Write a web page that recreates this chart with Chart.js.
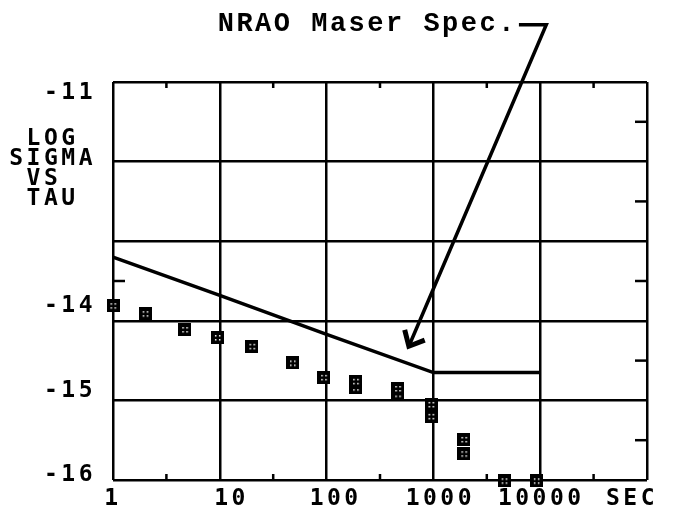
<!DOCTYPE html>
<html>
<head>
<meta charset="utf-8">
<script src="https://cdn.jsdelivr.net/npm/chart.js@4/dist/chart.umd.min.js"></script>
<style>
  html, body { margin: 0; padding: 0; background: #fff; }
  #wrap { width: 674px; height: 516px; }
</style>
</head>
<body>
<div id="wrap"><canvas id="c" width="674" height="516"></canvas></div>
<script>
// ---- data ----
const tauA   = [1, 2, 4.7, 9.5, 20, 48, 94, 187, 464, 950, 1930, 4600, 9200];
const sigmaA = [-13.81, -13.91, -14.11, -14.21, -14.32, -14.53, -14.71, -14.76, -14.85, -15.05, -15.49, -16.01, -16.01];
const tauB   = [187, 464, 950, 1930];
const sigmaB = [-14.84, -14.92, -15.2, -15.67];
const specTau   = [1, 10, 100, 1000, 10000];
const specSigma = [-13.2, -13.68, -14.17, -14.65, -14.65];

const xTickValues = [1, 10, 100, 1000, 10000, 100000];
const xTickLabels = ['1', '10', '100', '1000', '10000', 'SEC'];
const yTickValues = [-16, -15, -14, -12, -11];
const yTickLabels = ['-16', '-15', '-14', ['LOG ', 'SIGMA', 'VS  ', 'TAU '], '-11'];
const titleText = 'NRAO Maser Spec.';

// ---- layout / style (not data) ----
const xLabelNudge = [0, 0.11, 0.085, 0.065, 0.01, -0.14];   // decades
const yLabelNudge = [0.06, 0.12, 0.19, -0.09, -0.14];        // units
const arrow = { tailX: 11400, tailY: -10.28, tipX: 589, tipY: -14.32, hookX: 6320 };
const gridY = [-16, -15, -14, -13, -12, -11];

function makeMarker() {
  const s = 13, cv = document.createElement('canvas');
  cv.width = s; cv.height = s;
  const c = cv.getContext('2d');
  c.fillStyle = '#000'; c.fillRect(0, 0, s, s);
  c.fillStyle = '#fff';
  c.fillRect(4, 4, 1.5, 1.5); c.fillRect(8, 4, 1.5, 1.5);
  c.fillRect(4, 8, 1.5, 1.5); c.fillRect(8, 8, 1.5, 1.5);
  return cv;
}
const marker = makeMarker();

const tickFont = { family: '"DejaVu Sans Mono", monospace', size: 23, weight: 'bold' };

const decor = {
  id: 'decor',
  beforeDraw(chart) {
    const ctx = chart.ctx;
    ctx.save();
    ctx.fillStyle = '#fff';
    ctx.fillRect(0, 0, chart.width, chart.height);
    ctx.restore();
    ctx.letterSpacing = '3.5px';
  },
  afterDraw(chart) {
    const ctx = chart.ctx, xs = chart.scales.x, ys = chart.scales.y, a = chart.chartArea;
    ctx.save();
    ctx.letterSpacing = '0px';
    ctx.strokeStyle = '#000';
    ctx.lineWidth = 2.5;
    ctx.lineCap = 'butt';
    // minor ticks top / bottom at half decades
    for (let k = 0; k < 5; k++) {
      const px = xs.getPixelForValue(Math.pow(10, k + 0.5));
      ctx.beginPath();
      ctx.moveTo(px, a.top); ctx.lineTo(px, a.top + 6);
      ctx.moveTo(px, a.bottom); ctx.lineTo(px, a.bottom - 6);
      ctx.stroke();
    }
    // minor ticks right side at half units
    for (let v = -15.5; v < -11; v += 1) {
      const py = ys.getPixelForValue(v);
      ctx.beginPath();
      ctx.moveTo(a.right, py); ctx.lineTo(a.right - 12, py);
      ctx.stroke();
    }
    {
      const py = ys.getPixelForValue(-13.5);
      ctx.beginPath();
      ctx.moveTo(a.left, py); ctx.lineTo(a.left + 12, py);
      ctx.stroke();
    }
    // arrow
    const tx = xs.getPixelForValue(arrow.tailX), ty = ys.getPixelForValue(arrow.tailY);
    const px = xs.getPixelForValue(arrow.tipX), py = ys.getPixelForValue(arrow.tipY);
    const hx = xs.getPixelForValue(arrow.hookX);
    ctx.lineWidth = 3.5;
    ctx.lineJoin = 'miter';
    ctx.beginPath();
    ctx.moveTo(hx, ty); ctx.lineTo(tx, ty); ctx.lineTo(px, py);
    ctx.stroke();
    const ang = Math.atan2(ty - py, tx - px);
    const L = 17, spread = 0.55;
    ctx.lineWidth = 5;
    ctx.beginPath();
    ctx.moveTo(px + L * Math.cos(ang - spread - 0.1), py + L * Math.sin(ang - spread - 0.1));
    ctx.lineTo(px, py);
    ctx.lineTo(px + L * Math.cos(ang + spread + 0.25), py + L * Math.sin(ang + spread + 0.25));
    ctx.stroke();
    // title
    ctx.fillStyle = '#000';
    ctx.font = 'bold 27px "Liberation Mono", "Courier New", monospace';
    ctx.letterSpacing = '2.5px';
    ctx.textAlign = 'right';
    ctx.textBaseline = 'alphabetic';
    ctx.fillText(titleText, hx - 2, ty + 6);
    ctx.restore();
  }
};

new Chart(document.getElementById('c'), {
  type: 'scatter',
  data: {
    datasets: [
      {
        label: 'NRAO Maser Spec.',
        type: 'line',
        data: specTau.map((t, i) => ({ x: t, y: specSigma[i] })),
        borderColor: '#000',
        borderWidth: 3.5,
        pointRadius: 0,
        tension: 0,
        fill: false,
        clip: false
      },
      {
        label: 'measured A',
        data: tauA.map((t, i) => ({ x: t, y: sigmaA[i] })),
        pointStyle: marker,
        clip: false
      },
      {
        label: 'measured B',
        data: tauB.map((t, i) => ({ x: t, y: sigmaB[i] })),
        pointStyle: marker,
        clip: false
      }
    ]
  },
  options: {
    responsive: false,
    animation: false,
    devicePixelRatio: 1,
    layout: { padding: { top: 82, right: 27, left: 0, bottom: 0 } },
    plugins: { legend: { display: false }, tooltip: { enabled: false } },
    scales: {
      x: {
        type: 'logarithmic', position: 'bottom', weight: 0,
        min: 1, max: 100000,
        afterBuildTicks: s => { s.ticks = xTickValues.map(v => ({ value: v })); },
        ticks: { display: false },
        grid: { color: '#000', lineWidth: 2.5, drawTicks: false },
        border: { display: false },
        afterFit: s => { s.height = 0; }
      },
      xl: {
        type: 'logarithmic', position: 'bottom', weight: 1,
        min: 1, max: 100000,
        afterBuildTicks: s => { s.ticks = xTickValues.map((v, i) => ({ value: v * Math.pow(10, xLabelNudge[i]) })); },
        ticks: {
          autoSkip: false, maxRotation: 0, minRotation: 0, padding: -3,
          color: '#000', font: tickFont,
          callback: (v, i) => xTickLabels[i]
        },
        grid: { display: false },
        border: { display: false },
        afterFit: s => { s.height = 36; }
      },
      y: {
        type: 'linear', position: 'left', weight: 0,
        min: -16, max: -11,
        afterBuildTicks: s => { s.ticks = gridY.map(v => ({ value: v })); },
        ticks: { display: false },
        grid: { color: '#000', lineWidth: 2.5, drawTicks: false },
        border: { display: false },
        afterFit: s => { s.width = 0; }
      },
      yl: {
        type: 'linear', position: 'left', weight: 1,
        min: -16, max: -11,
        afterBuildTicks: s => { s.ticks = yTickValues.map((v, i) => ({ value: v + yLabelNudge[i] })); },
        ticks: {
          autoSkip: false, padding: 9,
          color: '#000', font: Object.assign({}, tickFont, { lineHeight: '20px' }),
          callback: (v, i) => yTickLabels[i]
        },
        grid: { display: false },
        border: { display: false },
        afterFit: s => { s.width = 113; }
      }
    }
  },
  plugins: [decor]
});
</script>
</body>
</html>
